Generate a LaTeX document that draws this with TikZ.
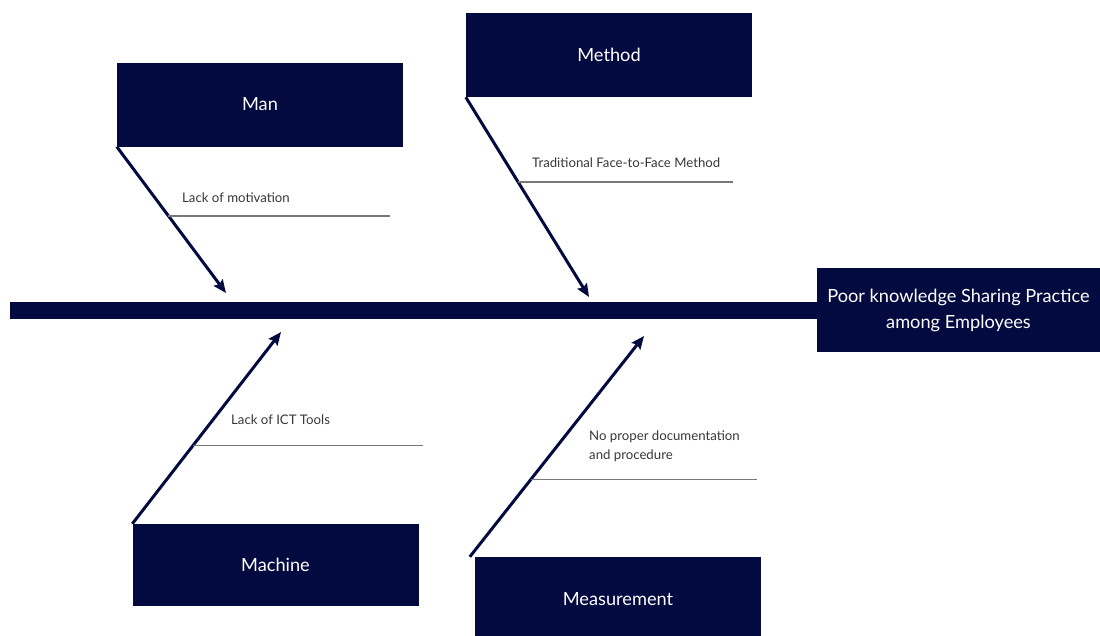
\documentclass[tikz,border=0pt]{standalone}
\usepackage{fontspec}
\setmainfont{Lato}
\usepackage{tikz}
\usetikzlibrary{arrows.meta}

\definecolor{navy}{RGB}{2,10,64}
\definecolor{twiggray}{RGB}{120,120,120}
\definecolor{labelgray}{RGB}{55,55,55}

\begin{document}
\begin{tikzpicture}[x=1pt, y=-1pt,
    catbox/.style={fill=navy, text=white, minimum width=286pt, minimum height=84pt,
      inner sep=0, font=\fontsize{18.2}{26}\selectfont},
    bone/.style={draw=navy, line width=3pt, -{Stealth[length=13pt, width=11pt, inset=2pt]}},
    twig/.style={draw=twiggray, line width=1.3pt},
    cause/.style={text=labelgray, anchor=west, inner sep=0, align=left,
      font=\fontsize{13.2}{19}\selectfont}]
  \useasboundingbox (0,0) rectangle (1100,635);

  % Draw the spine and the effect
  \node (spine) [fill=navy, minimum width=807pt, minimum height=17pt, inner sep=0,
    anchor=west] at (10,310.5) {};
  \node (effect) [catbox, minimum width=283pt, align=center] at (958.5,310)
    {Poor knowledge Sharing Practice\\among Employees};

  % Category boxes
  \node (man) [catbox] at (260,104.5) {Man};
  \node (method) [catbox] at (609,55) {Method};
  \node (machine) [catbox, minimum height=82pt] at (275.5,565) {Machine};
  \node (measure) [catbox] at (618,599) {Measurement};

  % Arrow tips on the spine
  \coordinate (mantip) at (226,293);
  \coordinate (methodtip) at (589,297);
  \coordinate (machinetip) at (281,332);
  \coordinate (measuretip) at (644,336);

  % Right ends of the causes
  \coordinate (manend) at (390,215);
  \coordinate (methodend) at (733,182);
  \coordinate (machineend) at (423,446);
  \coordinate (measureend) at (757,479);

  % Draw the bones
  \draw[bone] (man.south west) -- coordinate[pos=0.473] (manx) (mantip);
  \draw[bone] (method.south west) -- coordinate[pos=0.425] (methodx) (methodtip);
  \draw[bone] (machine.north west) -- coordinate[pos=0.409] (machinex) (machinetip);
  \draw[bone] ([xshift=-5pt]measure.north west) -- coordinate[pos=0.35] (measurex) (measuretip);

  % Draw the causes
  \draw[twig] (manx) -- (manx -| manend);
  \draw[twig] (methodx) -- (methodx -| methodend);
  \draw[twig] (machinex) -- (machinex -| machineend);
  \draw[twig] (measurex) -- (measurex -| measureend);

  \node (manlbl) [cause] at (182,198) {Lack of motivation};
  \node (methodlbl) [cause] at (532,163) {Traditional Face-to-Face Method};
  \node (machinelbl) [cause] at (231,420) {Lack of ICT Tools};
  \node (measurelbl) [cause] at (589,446.5) {No proper documentation\\and procedure};
\end{tikzpicture}
\end{document}
